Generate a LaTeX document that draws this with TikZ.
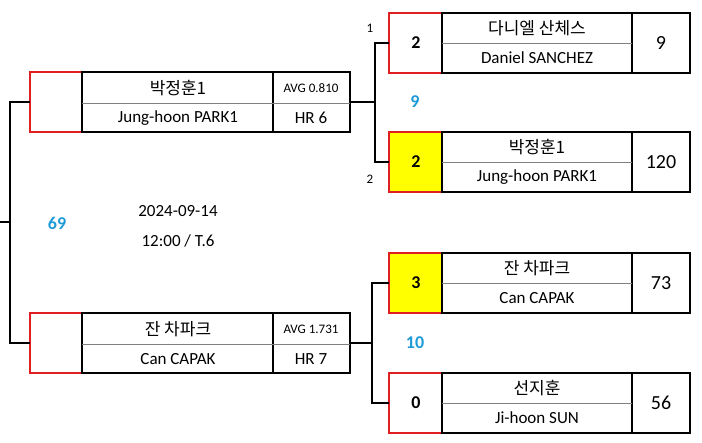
\documentclass[tikz,border=0pt]{standalone}
\usepackage{fontspec}
\setmainfont{Carlito}
\newfontfamily\kr{Noto Sans CJK KR}
\definecolor{rd}{HTML}{E02020}
\definecolor{bl}{HTML}{1E9BD7}
\definecolor{yl}{HTML}{FFFF00}
\tikzset{ln/.style={line width=1.5pt},
 txt/.style={inner sep=0pt,font=\fontsize{17}{19}\selectfont},
 sm/.style={inner sep=0pt,font=\fontsize{13}{15}\selectfont},
 num/.style={inner sep=0pt,font=\fontsize{18}{20}\selectfont\bfseries,text=bl}}
\begin{document}
\begin{tikzpicture}[x=1pt,y=-1pt]
\useasboundingbox (0,0) rectangle (702,443);
\newcommand\leftentry[5]{%
 \draw[ln,rd] (82,#1) -- (30,#1) -- (30,#1+60) -- (82,#1+60);
 \draw[ln] (82,#1) rectangle (350,#1+60) (273,#1) -- (273,#1+60);
 \draw[gray] (82,#1+31) -- (350,#1+31);
 \node[txt] at (178,#1+16) {\kr #2};
 \node[txt] at (178,#1+46) {#3};
 \node[sm] at (311,#1+16) {#4};
 \node[txt] at (311,#1+46) {#5};}
\newcommand\rightentry[6]{%
 \ifx#6y\fill[yl] (389,#1) rectangle (442,#1+60);\fi
 \draw[ln,rd] (442,#1) -- (389,#1) -- (389,#1+60) -- (442,#1+60);
 \draw[ln] (442,#1) rectangle (690,#1+60) (632,#1) -- (632,#1+60);
 \draw[gray] (442,#1+30) -- (632,#1+30);
 \node[txt,font=\fontsize{18}{20}\selectfont\bfseries] at (416,#1+30) {#2};
 \node[txt] at (537,#1+15) {\kr #3};
 \node[txt] at (537,#1+45) {#4};
 \node[txt,font=\fontsize{20}{22}\selectfont] at (661,#1+30) {#5};}
\leftentry{72}{박정훈1}{Jung-hoon PARK1}{AVG 0.810}{HR 6}
\leftentry{313}{잔 차파크}{Can CAPAK}{AVG 1.731}{HR 7}
\rightentry{13}{2}{다니엘 산체스}{Daniel SANCHEZ}{9}{n}
\rightentry{132}{2}{박정훈1}{Jung-hoon PARK1}{120}{y}
\rightentry{253}{3}{잔 차파크}{Can CAPAK}{73}{y}
\rightentry{373}{0}{선지훈}{Ji-hoon SUN}{56}{n}
\coordinate (l0) at (0,222);
\draw[ln] (l0) -- (10,222);
\draw[ln] (30,102) -- (10,102) -- (10,343) -- (30,343);
\draw[ln] (350,102) -- (375,102);
\draw[ln] (389,43) -- (375,43) -- (375,162) -- (389,162);
\draw[ln] (350,343) -- (372,343);
\draw[ln] (389,283) -- (372,283) -- (372,403) -- (389,403);
\node[sm] (a) at (370,28) {1};
\node[sm] (b) at (370,179) {2};
\node[num] (c) at (415,102) {9};
\node[num] (d) at (415,343) {10};
\node[num] (e) at (57,223) {69};
\node[txt] (f) at (178,211) {2024-09-14};
\node[txt] (g) at (178,241) {12:00 / T.6};
\end{tikzpicture}
\end{document}
